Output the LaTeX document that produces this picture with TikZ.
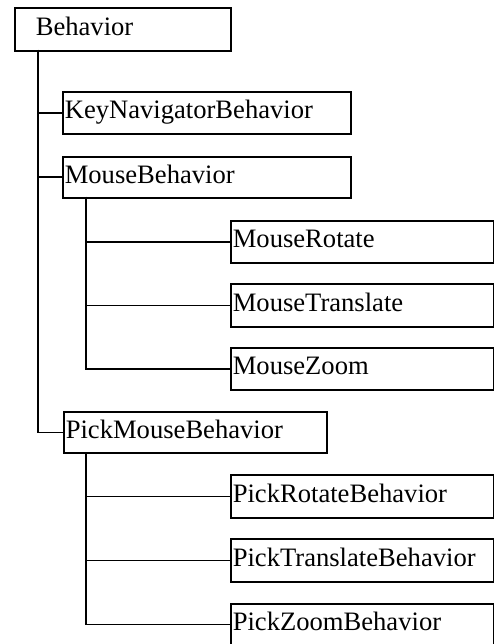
\documentclass[tikz,border=0pt]{standalone}
\usepackage{fontspec}
\setmainfont{Liberation Serif}
\begin{document}
\begin{tikzpicture}[x=1pt,y=-1pt,
  box/.style={draw=black,line width=1.6pt,anchor=north west,inner ysep=0pt,inner xsep=2pt,
    align=left,text height=12pt,text depth=0pt,
    font=\fontsize{26.6pt}{30pt}\selectfont},
  conn/.style={draw=black,line width=1.6pt}]
\useasboundingbox (0,0) rectangle (494,644);
\newcommand\bx[6]{\node[box,minimum width={#4-#2},minimum height={#5-#3},text width={#4-#2-4},#6] (#1) at (#2,#3)}
\bx{beh}{14}{7}{230}{50}{inner xsep=21pt,text width=174pt}{Behavior};
\bx{kn}{62}{91}{350}{133}{}{KeyNavigatorBehavior};
\bx{mb}{62}{156}{350}{197}{}{MouseBehavior};
\bx{mr}{230}{220}{493}{262}{}{MouseRotate};
\bx{mt}{230}{283}{493}{326}{}{MouseTranslate};
\bx{mz}{230}{347}{493}{389}{}{MouseZoom};
\bx{pmb}{63}{411}{326}{452}{}{PickMouseBehavior};
\bx{pr}{230}{474}{493}{517}{}{PickRotateBehavior};
\bx{pt}{230}{538}{493}{581}{}{PickTranslateBehavior};
\bx{pz}{230}{603}{493}{644}{}{PickZoomBehavior};
\coordinate (t0) at (38,50);
\coordinate (t1) at (86,197);
\coordinate (t2) at (86,452);
\draw[conn] (t0) |- (kn.west);
\draw[conn] (t0) |- (mb.west);
\draw[conn] (t0) |- (pmb.west);
\draw[conn] (t1) |- (mr.west);
\draw[conn] (t1) |- (mt.west);
\draw[conn] (t1) |- (mz.west);
\draw[conn] (t2) |- (pr.west);
\draw[conn] (t2) |- (pt.west);
\draw[conn] (t2) |- (pz.west);
\end{tikzpicture}
\end{document}
